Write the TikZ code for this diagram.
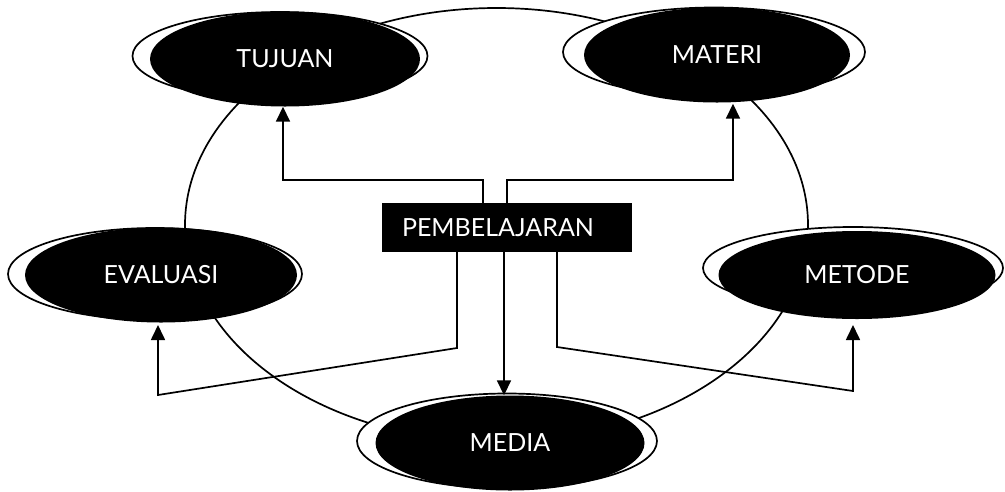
\documentclass[tikz,border=0pt]{standalone}
\usepackage{fontspec}
\setmainfont{Lato}
\usetikzlibrary{shapes.geometric,arrows.meta}
\tikzset{
    ring/.style={ellipse, draw, fill=white, line width=1.7pt, inner sep=0mm},
    blob/.style={ellipse, fill=black, text=white, inner sep=0mm, font=\fontsize{25}{30}\selectfont},
    link/.style={line width=1.7pt},
    arr/.style={line width=1.7pt, -{Triangle[length=15pt,width=14pt]}}
}

\begin{document}
\begin{tikzpicture}[x=1pt, y=-1pt]
  \useasboundingbox (0,0) rectangle (1005,491);
  \draw[link] (496.5,225) ellipse [x radius=311.5, y radius=217];

  \node (tO) [ring, minimum width=295, minimum height=88] at (280,56) {};
  \node (mO) [ring, minimum width=302, minimum height=89] at (714,52) {};
  \node (eO) [ring, minimum width=294, minimum height=92] at (155,274) {};
  \node (dO) [ring, minimum width=300, minimum height=82] at (853,268) {};
  \node (sO) [ring, minimum width=300, minimum height=95] at (507,441) {};

  \node (tujuan) [blob, minimum width=270, minimum height=95] at (285,59) {TUJUAN};
  \node (materi) [blob, minimum width=266, minimum height=95] at (717,55) {MATERI};
  \node (evaluasi) [blob, minimum width=272, minimum height=95] at (161,275) {EVALUASI};
  \node (metode) [blob, minimum width=277, minimum height=88] at (857,275) {METODE};
  \node (media) [blob, minimum width=269, minimum height=95] at (510,443) {MEDIA};

  \node (pb) [rectangle, fill=black, text=white, inner xsep=20, inner ysep=0mm,
    minimum height=49, text width=210, align=left,
    font=\fontsize{25}{30}\selectfont] at (507,227.5) {PEMBELAJARAN};

  \coordinate (a1) at (483,180);
  \coordinate (a2) at (507,180);
  \coordinate (b1) at (457,348);
  \coordinate (b2) at (158,395);
  \coordinate (c1) at (557,347);
  \coordinate (c2) at (853,391);

  \draw[arr] (pb.north -| a1) -- (a1) -| (tujuan.south -| 283,0);
  \draw[arr] (pb.north -| a2) -- (a2) -| ([yshift=-1]materi.south -| 733,0);
  \draw[arr] (pb.south -| b1) -- (b1) -- (b2) -- (b2 |- 0,325);
  \draw[arr] (pb.south -| c1) -- (c1) -- (c2) -- (c2 |- 0,325);
  \draw[arr] (pb.south -| 504,0) -- (media.north -| 504,0);
\end{tikzpicture}
\end{document}
